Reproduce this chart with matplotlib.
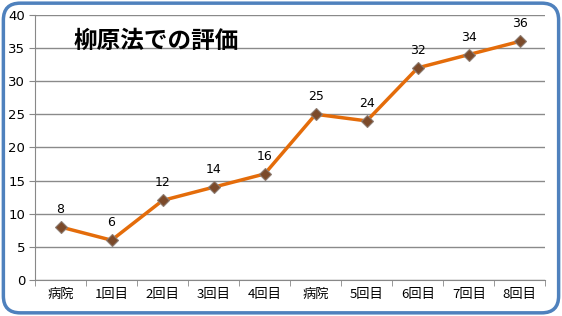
import matplotlib
matplotlib.use('Agg')
import matplotlib.pyplot as plt
from matplotlib.patches import FancyBboxPatch

plt.rcParams['font.family'] = ['Noto Sans CJK JP', 'DejaVu Sans']

# data
categories = ['病院', '1回目', '2回目', '3回目', '4回目', '病院', '5回目', '6回目', '7回目', '8回目']
scores = [8, 6, 12, 14, 16, 25, 24, 32, 34, 36]
title = '柳原法での評価'

fig = plt.figure(figsize=(5.62, 3.16), dpi=100)
ax = fig.add_axes([0.0623, 0.114, 0.908, 0.839])

x = list(range(len(categories)))
ax.plot(x, scores, color='#E46C0A', linewidth=2.5, marker='D', markersize=6,
        markerfacecolor='#7B4A2A', markeredgecolor='#8C7B70', markeredgewidth=0.8, zorder=3)

for xi, v in zip(x, scores):
    ax.annotate(str(v), (xi, v), xytext=(0, 8), textcoords='offset points',
                ha='center', va='bottom', fontsize=9, family='DejaVu Sans')

ax.set_xlim(-0.5, len(categories) - 0.5)
ax.set_ylim(0, 40)
ax.set_yticks(range(0, 41, 5))
ax.set_xticks(x)
ax.set_xticklabels(categories, fontsize=9.5)
ax.set_xticks([i - 0.5 for i in range(len(categories) + 1)], minor=True)
ax.tick_params(axis='x', which='major', length=0, pad=6)
ax.tick_params(axis='x', which='minor', length=4, color='#888888', direction='out')
ax.tick_params(axis='y', length=4, color='#888888', labelsize=9.5, pad=3)
for lbl in ax.get_yticklabels():
    lbl.set_family('DejaVu Sans')

ax.grid(axis='y', color='#8a8a8a', linewidth=1)
ax.set_axisbelow(True)
for s in ['top', 'right']:
    ax.spines[s].set_visible(False)
ax.spines['left'].set_color('#888888')
ax.spines['bottom'].set_color('#888888')

ax.text(0.075, 0.9, title, transform=ax.transAxes, fontsize=17, fontweight='bold',
        ha='left', va='center')

border = FancyBboxPatch((0.006, 0.01), 0.988, 0.98, boxstyle='round,pad=0,rounding_size=0.03',
                        transform=fig.transFigure, facecolor='none', edgecolor='#4F81BD',
                        linewidth=2.5, mutation_aspect=562 / 316)
fig.patches.append(border)

fig.savefig('out.png', dpi=100)
